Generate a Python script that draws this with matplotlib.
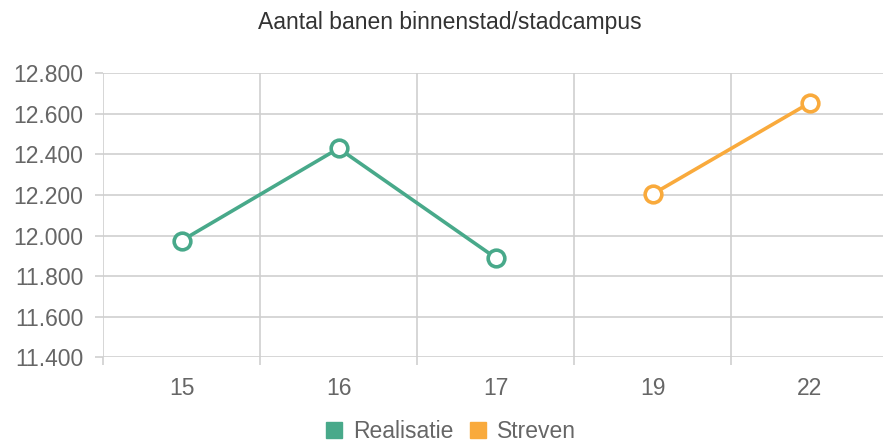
import matplotlib
matplotlib.use("Agg")
import matplotlib.pyplot as plt
import numpy as np
from matplotlib.lines import Line2D
from matplotlib.ticker import FuncFormatter, MultipleLocator

# data
categories = ["15", "16", "17", "19", "22"]
realisatie = [11975, 12430, 11890, np.nan, np.nan]
streven = [np.nan, np.nan, np.nan, 12205, 12655]
title = "Aantal banen binnenstad/stadcampus"

GREEN = "#48a98a"
ORANGE = "#f9aa3c"
GRID = "#cfcfcf"
TXT = "#666666"

plt.rcParams["font.family"] = ["Liberation Sans", "DejaVu Sans"]

W, H = 883, 445
fig = plt.figure(figsize=(W / 100, H / 100), dpi=100)
left, right, top, bottom = 103, 888.5, 73.3, 357.3
ax = fig.add_axes([left / W, 1 - bottom / H, (right - left) / W, (bottom - top) / H])

x = np.arange(len(categories))
ax.plot(x, realisatie, color=GREEN, lw=2.6, marker="o", ms=12,
        mfc="white", mec=GREEN, mew=2.6, zorder=3, clip_on=False)
ax.plot(x, streven, color=ORANGE, lw=2.6, marker="o", ms=12,
        mfc="white", mec=ORANGE, mew=2.6, zorder=3, clip_on=False)

ax.set_xlim(-0.5, len(categories) - 0.5)
ax.set_ylim(11400, 12800)

# category labels on major ticks, grid on category boundaries
ax.set_xticks(x)
ax.set_xticklabels(categories)
ax.set_xticks(np.arange(-0.5, len(categories)), minor=True)
ax.tick_params(axis="x", which="major", length=0, pad=14, labelsize=16.5, labelcolor=TXT)
ax.tick_params(axis="x", which="minor", length=6, width=1.2, color=GRID)
ax.grid(True, axis="x", which="minor", color=GRID, lw=1.2)

ax.yaxis.set_major_locator(MultipleLocator(200))
ax.yaxis.set_major_formatter(FuncFormatter(lambda v, p: f"{v:,.0f}".replace(",", ".")))
ax.tick_params(axis="y", length=6, width=1.2, color=GRID, pad=8, labelsize=16.5, labelcolor=TXT)
ax.grid(True, axis="y", color=GRID, lw=1.2)
ax.set_axisbelow(True)

for s in ax.spines.values():
    s.set_visible(False)

fig.text(450 / W, 1 - 22 / H, title, ha="center", va="center", fontsize=16.5, color="#333333")

handles = [Line2D([], [], marker="s", ls="none", ms=12, color=GREEN, label="Realisatie"),
           Line2D([], [], marker="s", ls="none", ms=12, color=ORANGE, label="Streven")]
leg = fig.legend(handles=handles, loc="center", bbox_to_anchor=(451 / W, 1 - 432 / H),
                 ncol=2, frameon=False, fontsize=16.5, handlelength=0.7,
                 handletextpad=0.5, columnspacing=0.7, borderpad=0)
for t in leg.get_texts():
    t.set_color(TXT)

fig.savefig("out.png", dpi=100)
